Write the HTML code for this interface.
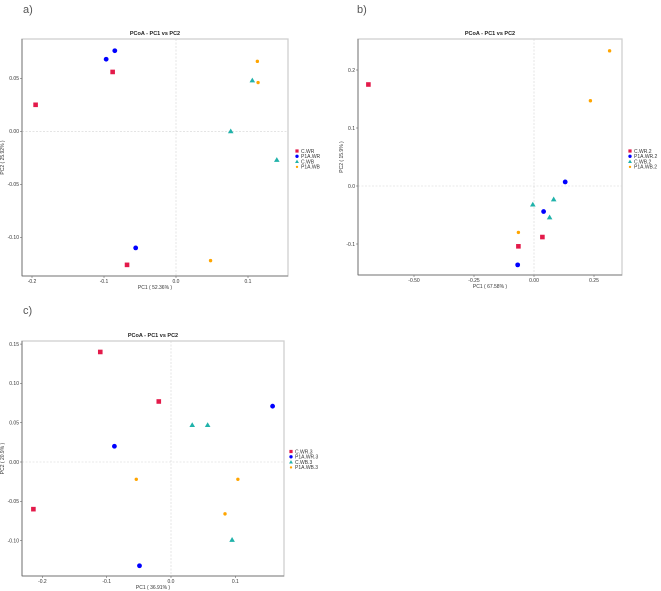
<!DOCTYPE html>
<html><head><meta charset="utf-8"><style>
html,body{margin:0;padding:0;background:#fff;}
svg{display:block;font-family:"Liberation Sans",sans-serif;}
</style></head><body>
<svg id="fig" width="661" height="591" viewBox="0 0 661 591"></svg>
<script>
// ---- Panel a data ----
const aLegend = ["C.WR","P1A.WR","C.WB","P1A.WB"];
const aX = [[-0.195,-0.088,-0.068],[-0.097,-0.085,-0.056],[0.106,0.076,0.140],[0.113,0.114,0.048]];
const aY = [[0.025,0.056,-0.126],[0.068,0.076,-0.110],[0.048,0.000,-0.027],[0.066,0.046,-0.122]];
const aXTicks = [-0.2,-0.1,0.0,0.1];
const aXTickLabels = ["-0.2","-0.1","0.0","0.1"];
const aYTicks = [0.05,0.00,-0.05,-0.10];
const aYTickLabels = ["0.05","0.00","-0.05","-0.10"];
// ---- Panel b data ----
const bLegend = ["C.WR.2","P1A.WR.2","C.WB.2","P1A.WB.2"];
const bX = [[-0.69,0.035,-0.065],[0.13,0.04,-0.068],[-0.005,0.082,0.065],[0.315,0.235,-0.065]];
const bY = [[0.175,-0.088,-0.104],[0.007,-0.044,-0.136],[-0.032,-0.023,-0.054],[0.233,0.147,-0.080]];
const bXTicks = [-0.5,-0.25,0.0,0.25];
const bXTickLabels = ["-0.50","-0.25","0.00","0.25"];
const bYTicks = [0.2,0.1,0.0,-0.1];
const bYTickLabels = ["0.2","0.1","0.0","-0.1"];
// ---- Panel c data ----
const cLegend = ["C.WR.3","P1A.WR.3","C.WB.3","P1A.WB.3"];
const cX = [[-0.110,-0.019,-0.214],[0.158,-0.088,-0.049],[0.033,0.057,0.095],[-0.054,0.104,0.084]];
const cY = [[0.140,0.077,-0.060],[0.071,0.020,-0.132],[0.047,0.047,-0.099],[-0.022,-0.022,-0.066]];
const cXTicks = [-0.2,-0.1,0.0,0.1];
const cXTickLabels = ["-0.2","-0.1","0.0","0.1"];
const cYTicks = [0.15,0.10,0.05,0.00,-0.05,-0.10];
const cYTickLabels = ["0.15","0.10","0.05","0.00","-0.05","-0.10"];

const colors = ["#e31a4a","#0000ff","#20b2aa","#ffa500"];
const NS = "http://www.w3.org/2000/svg";
const svg = document.getElementById("fig");
function mk(tag, attrs, parent, text){
  const e = document.createElementNS(NS, tag);
  for (const k in attrs) e.setAttribute(k, attrs[k]);
  if (text !== undefined) e.textContent = text;
  (parent||svg).appendChild(e);
  return e;
}
function panel(cfg){
  const g = mk("g", {});
  
  
  const sx = v => cfg.x0px + (v - cfg.x0v) * cfg.xs;
  const sy = v => cfg.y0px - (v - cfg.y0v) * cfg.ys;
  const L = cfg.box[0], T = cfg.box[1], R = cfg.box[2], B = cfg.box[3];
  const lab = mk("text", {x:cfg.labelPos[0], y:cfg.labelPos[1], "font-size":"11", fill:"#555"}, g, cfg.letter);
  
  
  const t = mk("text", {x:(L+R)/2, y:T-4, "font-size":"5.5", "font-weight":"bold", "text-anchor":"middle", fill:"#222"}, g, "PCoA - PC1 vs PC2");
  
  
  const frame = mk("rect", {x:L, y:T, width:R-L, height:B-T, fill:"none", stroke:"#cfcfcf", "stroke-width":"1.3"}, g);
  
  
  const z1 = mk("line", {x1:sx(0), x2:sx(0), y1:T, y2:B, stroke:"#d4d4d4", "stroke-width":"0.6", "stroke-dasharray":"2,1.5"}, g);
  
  
  const z2 = mk("line", {x1:L, x2:R, y1:sy(0), y2:sy(0), stroke:"#d4d4d4", "stroke-width":"0.6", "stroke-dasharray":"2,1.5"}, g);
  
  
  const ax = mk("line", {x1:L, x2:R, y1:B, y2:B, stroke:"#666", "stroke-width":"0.8"}, g);
  
  
  const ay = mk("line", {x1:L, x2:L, y1:T, y2:B, stroke:"#666", "stroke-width":"0.8"}, g);
  
  
  cfg.xt.forEach((v,i)=>{
    const x = sx(v);
    mk("line", {x1:x, x2:x, y1:B, y2:B+2, stroke:"#666", "stroke-width":"0.6"}, g);
    const tl = mk("text", {x:x, y:B+7, "font-size":"5", "text-anchor":"middle", fill:"#333"}, g, cfg.xtl[i]);
    
    
  });
  cfg.yt.forEach((v,i)=>{
    const y = sy(v);
    mk("line", {x1:L-2, x2:L, y1:y, y2:y, stroke:"#666", "stroke-width":"0.6"}, g);
    const tl = mk("text", {x:L-3, y:y+1.8, "font-size":"5", "text-anchor":"end", fill:"#333"}, g, cfg.ytl[i]);
    
    
  });
  const xl = mk("text", {x:(L+R)/2, y:B+13, "font-size":"5", "text-anchor":"middle", fill:"#333"}, g, cfg.xlab);
  
  
  const ylx = cfg.ylabX, yly = (T+B)/2;
  const yl = mk("text", {x:ylx, y:yly, "font-size":"5", "text-anchor":"middle", fill:"#333", transform:`rotate(-90 ${ylx} ${yly})`}, g, cfg.ylab);
  
  
  for (let s=0;s<4;s++){
    for (let k=0;k<cfg.X[s].length;k++){
      const m = marker(g, s, sx(cfg.X[s][k]), sy(cfg.Y[s][k]), 1);
      
      
    }
    const ly = cfg.legY + s*5.3;
    const lm = marker(g, s, cfg.legX, ly, 0.7);
    
    
    const lt = mk("text", {x:cfg.legX+4, y:ly+1.8, "font-size":"5", fill:"#333"}, g, cfg.leg[s]);
    
    
  }
}
function marker(g, s, x, y, sc){
  const c = colors[s];
  if (s===0) return mk("rect", {x:x-2.3*sc, y:y-2.3*sc, width:4.6*sc, height:4.6*sc, fill:c}, g);
  if (s===1) return mk("circle", {cx:x, cy:y, r:2.4*sc, fill:c}, g);
  if (s===2) return mk("polygon", {points:`${x},${y-2.8*sc} ${x-2.8*sc},${y+2*sc} ${x+2.8*sc},${y+2*sc}`, fill:c}, g);
  return mk("circle", {cx:x, cy:y, r:1.7*sc, fill:c}, g);
}
panel({name:"panel-a", letter:"a)", labelPos:[23,13], box:[22,39,288,276],
  x0v:0, x0px:176, xs:720, y0v:0, y0px:131.3, ys:1060,
  xt:aXTicks, xtl:aXTickLabels, yt:aYTicks, ytl:aYTickLabels,
  xlab:"PC1 ( 52.36% )", ylab:"PC2 ( 25.92% )", ylabX:4,
  X:aX, Y:aY, leg:aLegend, legX:297, legY:151});
panel({name:"panel-b", letter:"b)", labelPos:[357,13], box:[358,39,622,275],
  x0v:0, x0px:534, xs:240, y0v:0, y0px:186, ys:580,
  xt:bXTicks, xtl:bXTickLabels, yt:bYTicks, ytl:bYTickLabels,
  xlab:"PC1 ( 67.58% )", ylab:"PC2 ( 15.9% )", ylabX:343,
  X:bX, Y:bY, leg:bLegend, legX:630, legY:151});
panel({name:"panel-c", letter:"c)", labelPos:[23,314], box:[22,341,284,576],
  x0v:0, x0px:171, xs:643, y0v:0, y0px:462, ys:786,
  xt:cXTicks, xtl:cXTickLabels, yt:cYTicks, ytl:cYTickLabels,
  xlab:"PC1 ( 36.91% )", ylab:"PC2 ( 20.9% )", ylabX:4,
  X:cX, Y:cY, leg:cLegend, legX:291, legY:451.5});
</script>
</body></html>
